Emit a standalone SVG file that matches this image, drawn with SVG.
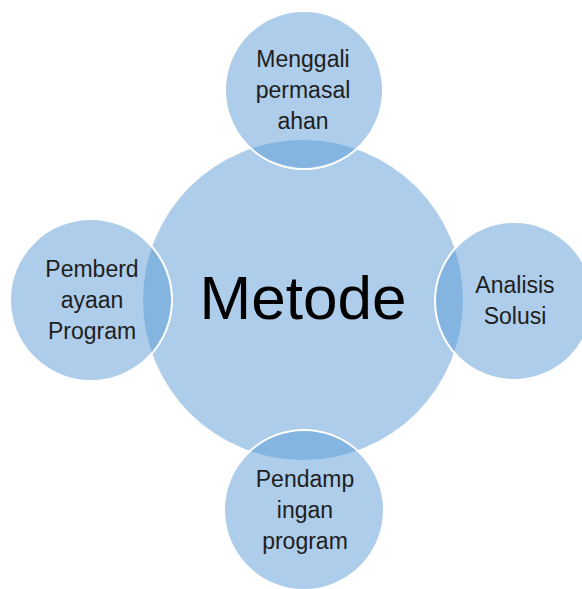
<svg xmlns="http://www.w3.org/2000/svg" width="582" height="589" viewBox="0 0 582 589">
<style>
.bg{fill:#ffffff}
.c{fill:#5B9BD5;fill-opacity:0.5}
.s{fill:#5B9BD5;fill-opacity:0.5;stroke:#ffffff;stroke-width:2}
.t{font-family:"Liberation Sans",Arial,sans-serif;font-size:23px;fill:#1e1e1e;text-anchor:middle}
.m{font-family:"Liberation Sans",Arial,sans-serif;font-size:61px;fill:#000000;text-anchor:middle}
</style>
<rect class="bg" x="0" y="0" width="582" height="589"/>
<g id="center">
<circle class="c" cx="303" cy="300" r="160"/>
<text class="m" x="303" y="319" textLength="207" lengthAdjust="spacingAndGlyphs">Metode</text>
</g>
<g id="connectors"></g>
<g id="top">
<circle class="s" cx="304" cy="90" r="79"/>
<text class="t" x="303" y="67">Menggali</text>
<text class="t" x="303" y="98">permasal</text>
<text class="t" x="303" y="129">ahan</text>
</g>
<g id="left">
<circle class="s" cx="91" cy="300" r="81"/>
<text class="t" x="92" y="277">Pemberd</text>
<text class="t" x="92" y="308">ayaan</text>
<text class="t" x="92" y="339">Program</text>
</g>
<g id="right">
<circle class="s" cx="514" cy="301" r="79"/>
<text class="t" x="515" y="293">Analisis</text>
<text class="t" x="515" y="324">Solusi</text>
</g>
<g id="bottom">
<circle class="s" cx="304" cy="510" r="80"/>
<text class="t" x="305" y="487">Pendamp</text>
<text class="t" x="305" y="518">ingan</text>
<text class="t" x="305" y="549">program</text>
</g>
</svg>
